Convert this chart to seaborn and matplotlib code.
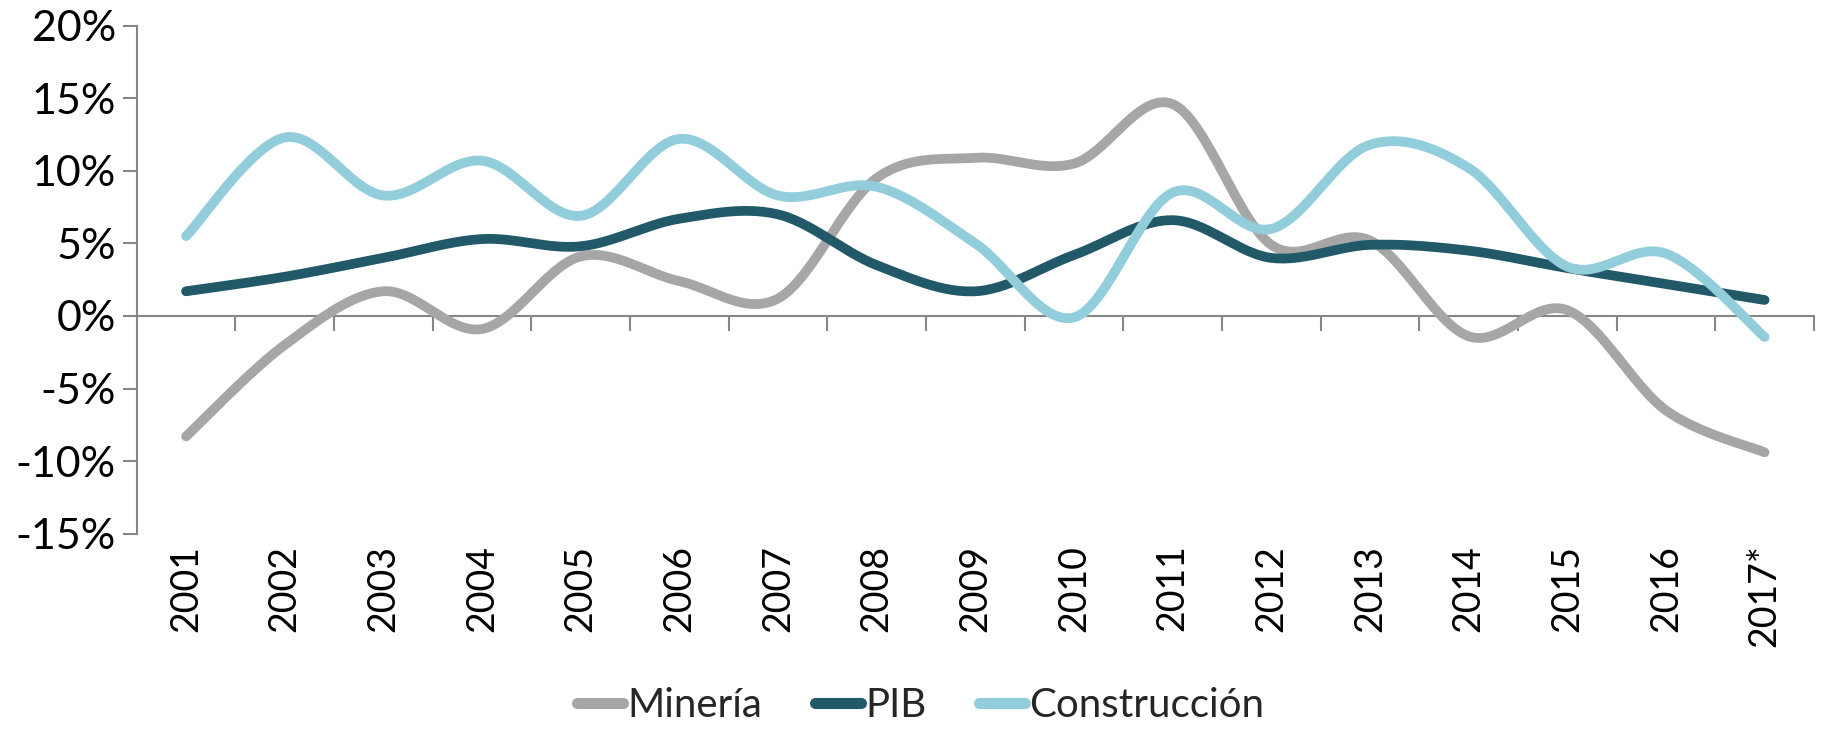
import numpy as np
import pandas as pd
import matplotlib
matplotlib.use("Agg")
import matplotlib.pyplot as plt
import seaborn as sns
from matplotlib.ticker import FuncFormatter

# data (% growth)
years = ["2001", "2002", "2003", "2004", "2005", "2006", "2007", "2008", "2009",
         "2010", "2011", "2012", "2013", "2014", "2015", "2016", "2017*"]
mineria = [-8.3, -2.0, 1.7, -0.9, 4.1, 2.4, 1.2, 9.5, 10.9, 10.5, 14.6, 4.9,
           5.2, -1.4, 0.4, -6.5, -9.4]
pib = [1.7, 2.7, 4.0, 5.3, 4.8, 6.7, 7.0, 3.5, 1.7, 4.2, 6.6, 4.0, 4.9, 4.5,
       3.3, 2.2, 1.1]
construccion = [5.5, 12.3, 8.3, 10.7, 6.9, 12.2, 8.3, 8.9, 5.0, -0.1, 8.5, 6.0,
                11.8, 10.2, 3.4, 4.3, -1.45]

series = {"Minería": mineria, "PIB": pib, "Construcción": construccion}
colors = {"Minería": "#A6A6A6", "PIB": "#215968", "Construcción": "#92CDDC"}


def smooth(y, n=30):
    # Excel-style smoothed line (Catmull-Rom / Bezier with 1/6 control points)
    y = np.asarray(y, dtype=float)
    x = np.arange(len(y), dtype=float)
    p = np.column_stack([x, y])
    pts = []
    for i in range(len(p) - 1):
        p0 = p[i - 1] if i > 0 else p[i]
        p3 = p[i + 2] if i + 2 < len(p) else p[i + 1]
        c1 = p[i] + (p[i + 1] - p0) / 6
        c2 = p[i + 1] - (p3 - p[i]) / 6
        t = np.linspace(0, 1, n, endpoint=(i == len(p) - 2))[:, None]
        b = ((1 - t) ** 3) * p[i] + 3 * ((1 - t) ** 2) * t * c1 \
            + 3 * (1 - t) * t ** 2 * c2 + t ** 3 * p[i + 1]
        pts.append(b)
    return np.vstack(pts)


frames = []
for name, vals in series.items():
    s = smooth(vals)
    frames.append(pd.DataFrame({"x": s[:, 0], "y": s[:, 1], "serie": name}))
df = pd.concat(frames, ignore_index=True)

sns.set_theme(style="white")
plt.rcParams["font.family"] = ["Lato", "DejaVu Sans"]

fig = plt.figure(figsize=(18.23, 7.35), dpi=100)
ax = fig.add_axes([0.075, 0.274, 0.92, 0.691])

sns.lineplot(data=df, x="x", y="y", hue="serie", palette=colors, sort=False,
             estimator=None, units="serie", linewidth=7, ax=ax,
             solid_capstyle="round", legend=False)

ax.set_xlim(-0.5, 16.5)
ax.set_ylim(-15, 20)
ax.set_yticks(np.arange(-15, 21, 5))
ax.yaxis.set_major_formatter(FuncFormatter(lambda v, _: f"{v:.0f}%"))
ax.set_xticks(range(len(years)))
ax.set_xticklabels(years, rotation=90)
ax.set_xlabel("")
ax.set_ylabel("")

for side in ["top", "right", "bottom"]:
    ax.spines[side].set_visible(False)
ax.spines["left"].set_color("#868686")
ax.spines["left"].set_linewidth(1.5)
ax.tick_params(axis="y", left=True, length=10, width=1.5, color="#868686",
               labelsize=31, pad=5, labelcolor="black")
ax.tick_params(axis="x", bottom=False, length=0, labelsize=27, pad=8,
               labelcolor="black")

# zero axis line with category boundary tick marks
sec = ax.secondary_xaxis(15 / 35)
sec.spines["bottom"].set_color("#868686")
sec.spines["bottom"].set_linewidth(1.5)
sec.set_xticks(np.arange(0.5, 17, 1))
sec.tick_params(axis="x", length=11, width=1.5, color="#868686",
                labelbottom=False)

handles = [plt.Line2D([], [], color=colors[k], linewidth=8,
                      solid_capstyle="round") for k in series]
fig.legend(handles, list(series), loc="lower center", ncol=3, frameon=False,
           fontsize=29, handlelength=1.15, handletextpad=0.1, columnspacing=1.3,
           bbox_to_anchor=(0.505, -0.035))

fig.savefig("out.png", dpi=100)
